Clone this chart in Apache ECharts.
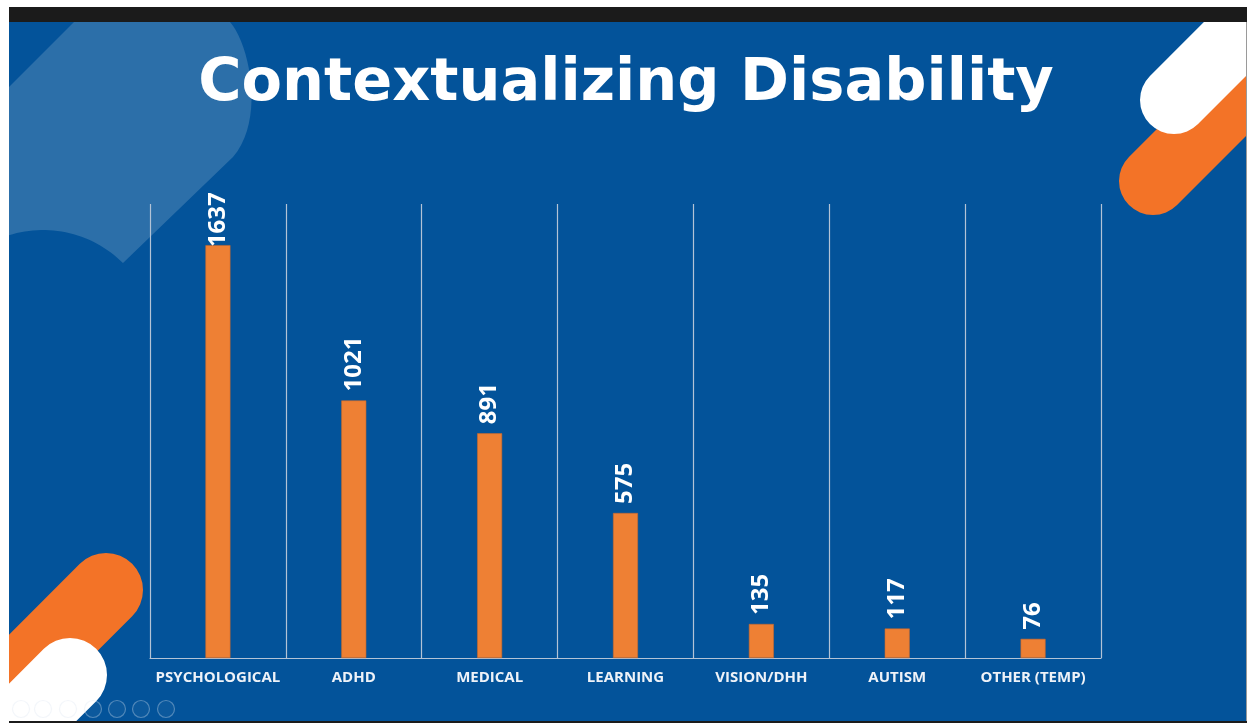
<!DOCTYPE html>
<html>
<head>
<meta charset="utf-8">
<script src="https://cdn.jsdelivr.net/npm/echarts@6/dist/echarts.min.js"></script>
<style>
html,body{margin:0;padding:0;background:#ffffff;}
#chart{width:1247px;height:723px;}
</style>
</head>
<body>
<div id="chart"></div>
<script>
const titleText = 'Contextualizing Disability';
const categories = ['PSYCHOLOGICAL', 'ADHD', 'MEDICAL', 'LEARNING', 'VISION/DHH', 'AUTISM', 'OTHER (TEMP)'];
const counts = [1637, 1021, 891, 575, 135, 117, 76];
const yMax = 1800;

const BLUE = '#03539a';
const LIGHT = '#2c6fa9';
const ORANGE = '#f37327';
const BAR = '#ee8034';

const chart = echarts.init(document.getElementById('chart'));

function pill(cx, cy, r, len, rot, color, z) {
  return {
    type: 'rect', x: cx, y: cy, rotation: rot, z: z, silent: true,
    shape: { x: -r, y: -r, width: len, height: 2 * r, r: r },
    style: { fill: color }
  };
}

function lightShapePoints() {
  const pts = [[9, 87], [74, 22]];
  const p0 = [230, 22], c1 = [250, 45], c2 = [265, 120], p3 = [233, 157];
  for (let i = 0; i <= 20; i++) {
    const t = i / 20, u = 1 - t;
    pts.push([
      u*u*u*p0[0] + 3*u*u*t*c1[0] + 3*u*t*t*c2[0] + t*t*t*p3[0],
      u*u*u*p0[1] + 3*u*u*t*c1[1] + 3*u*t*t*c2[1] + t*t*t*p3[1]
    ]);
  }
  pts.push([123, 263]);
  const cx = 43, cy = 343, r = 113;
  const a0 = Math.atan2(263 - cy, 123 - cx), a1 = Math.atan2(236 - cy, 9 - cx);
  for (let i = 0; i <= 30; i++) {
    const a = a0 + (a1 - a0) * i / 30;
    pts.push([cx + r * Math.cos(a), cy + r * Math.sin(a)]);
  }
  pts.push([9, 236]);
  return pts;
}

const graphics = [
  { type: 'rect', z: -30, silent: true, shape: { x: 9, y: 22, width: 1237, height: 699 }, style: { fill: BLUE } },
  { type: 'polygon', z: -25, silent: true, shape: { points: lightShapePoints() }, style: { fill: LIGHT } },
  pill(1153, 181, 34, 320, Math.PI / 4, ORANGE, -20),
  pill(1174, 100, 34, 320, Math.PI / 4, '#ffffff', -19),
  pill(106, 590, 37, 320, -3 * Math.PI / 4, ORANGE, -20),
  pill(70, 675, 37, 320, -3 * Math.PI / 4, '#ffffff', -19),
  { type: 'rect', z: 50, silent: true, shape: { x: 0, y: 0, width: 1247, height: 7 }, style: { fill: '#ffffff' } },
  { type: 'rect', z: 50, silent: true, shape: { x: 0, y: 0, width: 9, height: 723 }, style: { fill: '#ffffff' } },
  { type: 'rect', z: 51, silent: true, shape: { x: 9, y: 7, width: 1238, height: 15 }, style: { fill: '#1b1b1b' } },
  { type: 'rect', z: 50, silent: true, shape: { x: 1246, y: 22, width: 1, height: 701 }, style: { fill: '#9a9a9a' } },
  { type: 'rect', z: 50, silent: true, shape: { x: 9, y: 721, width: 1238, height: 2 }, style: { fill: '#1b1b1b' } },
  { type: 'text', z: 40, silent: true, x: 626, y: 85,
    style: { text: titleText, fill: '#ffffff', font: 'bold 59px "DejaVu Sans", sans-serif', textAlign: 'center', textVerticalAlign: 'middle' } }
];

[21, 43, 68, 93, 117, 141, 166].forEach(function (cx) {
  graphics.push({ type: 'circle', z: 45, silent: true, shape: { cx: cx, cy: 709, r: 8.5 },
    style: { fill: 'rgba(255,255,255,0.04)', stroke: 'rgba(220,228,240,0.35)', lineWidth: 1.2 } });
});

const barData = counts.map(function (v, i) {
  return i === 0 ? { value: v, label: { distance: -2 } } : v;
});

const option = {
  backgroundColor: 'transparent',
  animation: false,
  graphic: graphics,
  grid: { left: 150, right: 146, top: 204, bottom: 65, containLabel: false },
  xAxis: {
    type: 'category',
    data: categories,
    boundaryGap: true,
    axisLine: { show: true, lineStyle: { color: '#b3c3d6', width: 1.2 } },
    axisTick: { show: false },
    splitLine: { show: true, interval: 0, lineStyle: { color: '#b3c3d6', width: 1.2 } },
    axisLabel: { interval: 0, color: '#eef2f8', fontFamily: '"Open Sans", sans-serif', fontWeight: 'bold', fontSize: 15, margin: 12 }
  },
  yAxis: {
    type: 'value', min: 0, max: yMax, interval: 300,
    show: false,
    splitLine: { show: false }
  },
  series: [{
    type: 'bar',
    data: barData,
    barWidth: 25,
    itemStyle: { color: BAR, borderColor: '#c9682b', borderWidth: 0.6 },
    label: {
      show: true, position: 'top', rotate: 90, align: 'left', verticalAlign: 'middle', distance: 9,
      color: '#ffffff', fontFamily: '"Open Sans", sans-serif', fontWeight: 'bold', fontSize: 24
    }
  }]
};
chart.setOption(option);
</script>
</body>
</html>
